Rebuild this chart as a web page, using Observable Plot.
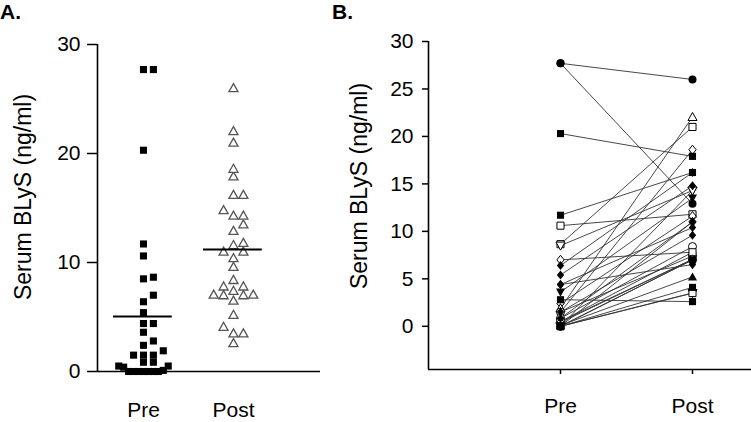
<!DOCTYPE html>
<html><head><meta charset="utf-8">
<script src="https://cdn.jsdelivr.net/npm/d3@7"></script>
<script src="https://cdn.jsdelivr.net/npm/@observablehq/plot@0.6"></script>
<style>
body{margin:0;background:#fff;}
#wrap{position:relative;width:751px;height:422px;overflow:hidden;font-family:"Liberation Sans",Arial,sans-serif;color:#000;background:#fff;}
.panel{position:absolute;top:0;}
.plabel{position:absolute;font-weight:bold;font-size:21px;line-height:1;}
.ylab{position:absolute;font-size:23px;line-height:1;white-space:nowrap;transform:translate(-50%,-50%) rotate(-90deg);}
#wrap svg g[aria-label*="axis"] line, #wrap svg g[aria-label*="axis"] path{stroke-width:1.5px;}
</style></head><body>
<div id="wrap">
 <div id="a" class="panel" style="left:0"></div>
 <div id="b" class="panel" style="left:330px"></div>
 <div class="plabel" style="left:0;top:1px">A.</div>
 <div class="plabel" style="left:332px;top:1px">B.</div>
 <div class="ylab" style="left:23px;top:197px">Serum BLyS (ng/ml)</div>
 <div class="ylab" style="left:359px;top:186px">Serum BLyS (ng/ml)</div>
</div>
<script>
// ---- data ----
const groups = ["Pre", "Post"];
const preValues  = [27.7, 27.7, 20.3, 11.7, 10.6, 8.65, 8.5, 7.0, 6.4, 5.4, 4.4, 4.4, 3.6, 2.8, 2.4, 1.9,
                    1.5, 1.5, 1.5, 0.85, 0.85, 0.5, 0.5, 0.4, 0.1, 0, 0, 0, 0, 0, 0, 0];
const postValues = [26.0, 12.9, 17.9, 16.2, 11.8, 21.0, 14.3, 7.8, 16.2, 14.8, 10.4, 6.5, 13.5, 2.6, 11.6, 22.05,
                    18.6, 9.6, 7.4, 8.4, 11.0, 7.8, 7.05, 7.05, 5.2, 4.1, 3.5, 3.5, 14.3, 11.0, 7.0, 7.0];
const subjectMarker = ["circle","circle","square","square","square","square","triangleDown","diamond",
                       "diamond","diamond","diamond","diamond","triangleDown","square","diamond","triangle",
                       "diamond","diamond","circle","circle","diamond","square","circle","diamond",
                       "triangle","square","triangleDown","square","triangleDown","diamond","circle","square"];
const subjectFilled = [true,true,true,true,false,false,false,false,
                       true,true,true,true,true,true,false,false,
                       false,true,false,false,true,false,false,false,
                       true,true,false,false,false,false,false,true];
const yTicksA = [0, 10, 20, 30];
const yTicksB = [0, 5, 10, 15, 20, 25, 30];

// ---- symbols ----
const triUp = {draw(ctx, size){ const s = Math.sqrt(size) * 0.64; ctx.moveTo(0, -s); ctx.lineTo(s, s * 0.78); ctx.lineTo(-s, s * 0.78); ctx.closePath(); }};
const triDown = {draw(ctx, size){ const s = Math.sqrt(size) * 0.64; ctx.moveTo(0, s); ctx.lineTo(s, -s * 0.78); ctx.lineTo(-s, -s * 0.78); ctx.closePath(); }};
const diamond = {draw(ctx, size){ const s = Math.sqrt(size) * 0.64; ctx.moveTo(0, -s); ctx.lineTo(s * 0.8, 0); ctx.lineTo(0, s); ctx.lineTo(-s * 0.8, 0); ctx.closePath(); }};
const markerNames = ["circle", "square", "diamond", "triangle", "triangleDown"];
const markerSymbols = [d3.symbolCircle, d3.symbolSquare, diamond, triUp, triDown];

// ---- long table ----
const long = [];
preValues.forEach((v, i) => {
  long.push({id: i, t: 0, value: v, marker: subjectMarker[i], filled: subjectFilled[i]});
  long.push({id: i, t: 1, value: postValues[i], marker: subjectMarker[i], filled: subjectFilled[i]});
});

// scatter layout (column dodge) for panel A; crowded rows are squeezed
function dodgeColumns(rows, minGap) {
  const order = [0, 1, -1, 2, -2, 3, -3, 4, -4, 5, -5, 6, -6];
  const placed = [];
  rows.slice().sort((a, b) => a.value - b.value).forEach(r => {
    for (const k of order) {
      if (!placed.some(p => p.col === k && Math.abs(p.value - r.value) < minGap)) { r.col = k; placed.push(r); break; }
    }
  });
  rows.forEach(r => {
    const crowd = rows.filter(q => Math.abs(q.value - r.value) < minGap).length;
    r.dx = r.col * (crowd >= 9 ? 0.055 : crowd >= 7 ? 0.075 : 0.11);
  });
}
const rowsA = long.map(d => ({...d}));
dodgeColumns(rowsA.filter(d => d.t === 0), 0.6);
dodgeColumns(rowsA.filter(d => d.t === 1), 0.6);
const means = groups.map((g, t) => ({t, mean: d3.mean(rowsA.filter(d => d.t === t), d => d.value)}));

const font = {fontSize: "21px", fontFamily: "'Liberation Sans', Arial, sans-serif", color: "black", background: "transparent"};

// ---- panel A ----
const xDomA = [-0.511, 1.967];
const plotA = Plot.plot({
  width: 330, height: 422, marginLeft: 97, marginRight: 10, marginTop: 44, marginBottom: 51,
  style: font,
  x: {type: "linear", domain: xDomA, ticks: [0, 1], tickFormat: i => groups[i], tickSize: 0, tickPadding: 31, label: null},
  y: {domain: [0, 30], ticks: yTicksA, tickSize: 10, tickPadding: 7, label: null},
  marks: [
    Plot.ruleX([xDomA[0]], {stroke: "black", strokeWidth: 1.6}),
    Plot.ruleY([0], {stroke: "black", strokeWidth: 1.6}),
    Plot.dot(rowsA.filter(d => d.t === 0), {x: d => d.t + d.dx, y: "value", symbol: "square", r: 4, fill: "black"}),
    Plot.dot(rowsA.filter(d => d.t === 1), {x: d => d.t + d.dx, y: "value", symbol: triUp, r: 4, fill: "white", stroke: "#555", strokeWidth: 1.3}),
    Plot.ruleY(means, {y: "mean", x1: d => d.t - 0.333, x2: d => d.t + 0.32, stroke: "black", strokeWidth: 2})
  ]
});
document.getElementById("a").append(plotA);

// ---- panel B ----
const xDomB = [-1, 1.447];
const yDomB = [-4.55, 30];
const plotB = Plot.plot({
  width: 421, height: 422, marginLeft: 98, marginRight: 0, marginTop: 41, marginBottom: 53,
  style: font,
  x: {type: "linear", domain: xDomB, ticks: [0, 1], tickFormat: i => groups[i], tickSize: 5, tickPadding: 24, label: null},
  y: {domain: yDomB, ticks: yTicksB, tickSize: 6, tickPadding: 9, label: null},
  symbol: {domain: markerNames, range: markerSymbols},
  marks: [
    Plot.ruleX([xDomB[0]], {stroke: "black", strokeWidth: 1.6}),
    Plot.ruleY([yDomB[0]], {stroke: "black", strokeWidth: 1.6}),
    Plot.line(long, {x: "t", y: "value", z: "id", stroke: "#333", strokeWidth: 0.9}),
    Plot.dot(long.filter(d => !d.filled), {x: "t", y: "value", symbol: "marker", r: 4, fill: "white", stroke: "black", strokeWidth: 1}),
    Plot.dot(long.filter(d => d.filled), {x: "t", y: "value", symbol: "marker", r: 4, fill: "black"})
  ]
});
document.getElementById("b").append(plotB);
</script>
</body></html>
